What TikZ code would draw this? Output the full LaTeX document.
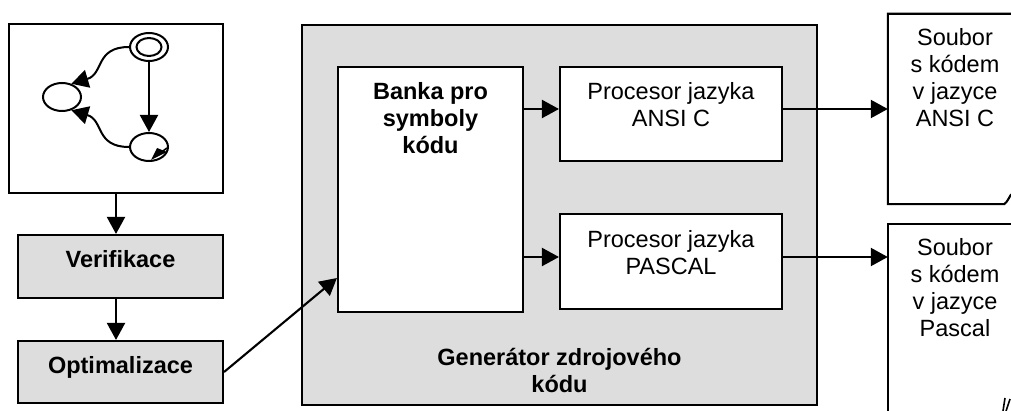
\documentclass[tikz,border=0pt]{standalone}
\usepackage{fontspec}
\setmainfont{Liberation Sans}
\usetikzlibrary{arrows.meta,shapes.geometric}
\definecolor{panel}{RGB}{221,221,221}
\begin{document}
\begin{tikzpicture}[x=1pt,y=-1pt,
  edge/.style={line width=2.1pt},
  box/.style={draw,edge,rectangle,inner sep=0pt},
  txt/.style={font=\fontsize{23.5}{27}\selectfont,align=center,inner sep=0pt},
  btxt/.style={font=\fontsize{23.5}{27}\selectfont\bfseries,align=center,inner sep=0pt},
  tip/.style={-{Triangle[length=17pt,width=18pt]}},
  conn/.style={edge,tip},
  state/.style={ellipse,draw,line width=2pt,minimum width=38pt,minimum height=28pt,inner sep=0pt,fill=white},
  ]
\useasboundingbox (0,0) rectangle (1011,411);
\clip (0,0) rectangle (1011,411);

% left column: automaton, verification, optimisation
\node[box,minimum width=214pt,minimum height=169pt] (src) at (116,108.5) {};
\node[box,fill=panel,minimum width=205pt,minimum height=63pt] (ver) at (120.5,266.5) {};
\node[btxt] (vertxt) at (120.5,259.5) {Verifikace};
\node[box,fill=panel,minimum width=205pt,minimum height=62pt] (opt) at (120.5,372) {};
\node[btxt] (opttxt) at (120.5,367) {Optimalizace};

% small state graph
\node[state] (s0) at (149,47) {};
\draw[line width=2pt] (s0.center) ellipse [x radius=12.5, y radius=9];
\node[state] (s1) at (62,97) {};
\node[state] (s2) at (149,147) {};
\draw[line width=2pt,tip] (s0.south) -- (s2.north);
\draw[line width=2pt,tip] (s0.west) .. controls (95,47) and (104,74) .. (s1.55);
\draw[line width=2pt,tip] (s2.west) .. controls (95,147) and (104,120) .. (s1.-55);
\fill ([shift={(2,13)}]s2.center) -- ([shift={(8,1)}]s2.center) -- ([shift={(18,5)}]s2.center) -- cycle;
\draw[line width=1.6pt] ([shift={(18,1)}]s2.center) -- ([shift={(10,7)}]s2.center);

% code generator
\node[box,fill=panel,minimum width=515pt,minimum height=380pt] (gen) at (559.5,215) {};
\node[btxt] (gentxt) at (559.5,370.75) {Generátor zdrojového\\kódu};
\node[box,fill=white,minimum width=185pt,minimum height=245pt] (bank) at (430.5,189.5) {};
\node[btxt] (banktxt) at (430.5,118.5) {Banka pro\\symboly\\kódu};
\node[box,fill=white,minimum width=222pt,minimum height=94pt] (procA) at (671,114) {};
\node[txt] (procAtxt) at (671,105) {Procesor jazyka\\ANSI C};
\node[box,fill=white,minimum width=222pt,minimum height=95pt] (procP) at (671,261.5) {};
\node[txt] (procPtxt) at (671,252.5) {Procesor jazyka\\PASCAL};

% output files
\node[minimum width=142pt,minimum height=190pt,inner sep=0pt] (outA) at (959,109) {};
\node[txt] (outAtxt) at (955,77.5) {Soubor\\s kódem\\v jazyce\\ANSI C};
\draw[edge] (outA.north east) -- (outA.north west) -- (outA.south west) -- ([xshift=-26pt]outA.south east) .. controls +(3,-2) and +(-2,3) .. ++(7,-10);
\node[minimum width=142pt,minimum height=192pt,inner sep=0pt] (outB) at (959,320) {};
\node[txt] (outBtxt) at (955,287.5) {Soubor\\s kódem\\v jazyce\\Pascal};
\draw[edge] (outB.north east) -- (outB.north west) -- (outB.south west);
\draw[line width=1.6pt] (1003,411) -- (1005,398);
\draw[line width=1.6pt] (1006,411) -- (1010,399);

% connectors
\draw[conn] (src.south -| 116,0) -- (ver.north -| 116,0);
\draw[conn] (ver.south -| 116,0) -- (opt.north -| 116,0);
\draw[conn] (opt.east) -- ([yshift=-88.5pt]bank.west);
\draw[conn] ([yshift=5pt]bank.east |- procA.west) -- ([yshift=5pt]procA.west);
\draw[conn] ([yshift=4.5pt]bank.east |- procP.west) -- ([yshift=4.5pt]procP.west);
\draw[conn] ([yshift=5pt]procA.east) -- ([yshift=5pt]procA.east -| outA.west);
\draw[conn] ([yshift=4.5pt]procP.east) -- ([yshift=4.5pt]procP.east -| outB.west);
\end{tikzpicture}
\end{document}
